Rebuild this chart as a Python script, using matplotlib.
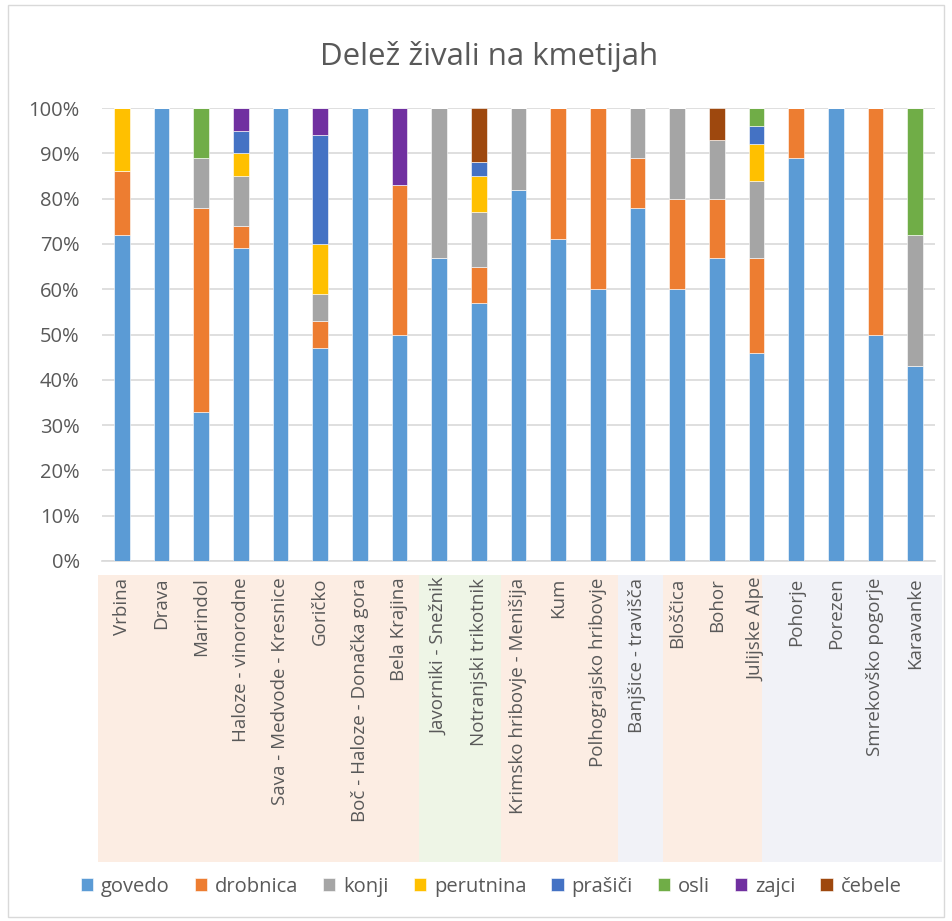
import numpy as np
import matplotlib
matplotlib.use("Agg")
import matplotlib.pyplot as plt
from matplotlib.patches import Rectangle

plt.rcParams["font.family"] = ["Open Sans", "DejaVu Sans"]

# Kmetije (območja)
obmocja = [
    "Vrbina", "Drava", "Marindol", "Haloze - vinorodne",
    "Sava - Medvode - Kresnice", "Goričko", "Boč - Haloze - Donačka gora",
    "Bela Krajina", "Javorniki - Snežnik", "Notranjski trikotnik",
    "Krimsko hribovje - Menišija", "Kum", "Polhograjsko hribovje",
    "Banjšice - travišča", "Bloščica", "Bohor", "Julijske Alpe",
    "Pohorje", "Porezen", "Smrekovško pogorje", "Karavanke",
]

# deleži posameznih vrst živali (v %)
govedo     = [72, 100, 33, 69, 100, 47, 100, 50, 67, 57, 82, 71, 60, 78, 60, 67, 46, 89, 100, 50, 43]
drobnica   = [14, 0, 45, 5, 0, 6, 0, 33, 0, 8, 0, 29, 40, 11, 20, 13, 21, 11, 0, 50, 0]
konji      = [0, 0, 11, 11, 0, 6, 0, 0, 33, 12, 18, 0, 0, 11, 20, 13, 17, 0, 0, 0, 29]
perutnina  = [14, 0, 0, 5, 0, 11, 0, 0, 0, 8, 0, 0, 0, 0, 0, 0, 8, 0, 0, 0, 0]
prasici    = [0, 0, 0, 5, 0, 24, 0, 0, 0, 3, 0, 0, 0, 0, 0, 0, 4, 0, 0, 0, 0]
osli       = [0, 0, 11, 0, 0, 0, 0, 0, 0, 0, 0, 0, 0, 0, 0, 0, 4, 0, 0, 0, 28]
zajci      = [0, 0, 0, 5, 0, 6, 0, 17, 0, 0, 0, 0, 0, 0, 0, 0, 0, 0, 0, 0, 0]
cebele     = [0, 0, 0, 0, 0, 0, 0, 0, 0, 12, 0, 0, 0, 0, 0, 7, 0, 0, 0, 0, 0]

serije = [
    ("govedo", govedo, "#5B9BD5"),
    ("drobnica", drobnica, "#ED7D31"),
    ("konji", konji, "#A5A5A5"),
    ("perutnina", perutnina, "#FFC000"),
    ("prašiči", prasici, "#4472C4"),
    ("osli", osli, "#70AD47"),
    ("zajci", zajci, "#7030A0"),
    ("čebele", cebele, "#9E480E"),
]

# barvna ozadja pod oznakami (od, do v enotah kategorij)
skupine = [
    (-0.6, 7.5, "#FCEDE3"),
    (7.5, 9.57, "#EEF5E6"),
    (9.57, 12.5, "#FCEDE3"),
    (12.5, 13.65, "#F1F2F7"),
    (13.65, 16.15, "#FCEDE3"),
    (16.15, 20.68, "#F1F2F7"),
]

siva = "#595959"

fig = plt.figure(figsize=(9.52, 9.21), dpi=100)
ax = fig.add_axes([0.1071, 0.3909, 0.8750, 0.4918])

x = np.arange(len(obmocja))
dno = np.zeros(len(obmocja))
for ime, vrednosti, barva in serije:
    v = np.array(vrednosti, dtype=float)
    ax.bar(x, v, 0.4, bottom=dno, color=barva, label=ime,
           edgecolor="white", linewidth=0.4, zorder=3)
    dno += v

ax.set_xlim(-0.5, len(obmocja) - 0.5)
ax.set_ylim(0, 100)
ax.set_yticks(np.arange(0, 101, 10))
ax.set_yticklabels([f"{t}%" for t in range(0, 101, 10)])
ax.yaxis.grid(True, color="#D9D9D9", linewidth=1.2, zorder=0)
for s in ["top", "right", "left"]:
    ax.spines[s].set_visible(False)
ax.spines["bottom"].set_color("#D9D9D9")
ax.spines["bottom"].set_linewidth(1.2)

ax.set_xticks(x)
ax.set_xticklabels(obmocja, rotation=90, va="top", ha="center")
ax.tick_params(axis="x", length=0, pad=12, labelsize=13.5, labelcolor=siva)
ax.tick_params(axis="y", length=0, pad=16, labelsize=14.5, labelcolor=siva)

# ozadja oznak
trans = ax.get_xaxis_transform()
for od, do, barva in skupine:
    ax.add_patch(Rectangle((od, -0.665), do - od, 0.634, transform=trans,
                           facecolor=barva, edgecolor="none", clip_on=False, zorder=0))

fig.text(0.514, 0.9294, "Delež živali na kmetijah", ha="center", va="baseline",
         fontsize=22.5, color=siva)

fig.legend(loc="center", bbox_to_anchor=(0.516, 0.037), ncol=8, frameon=False,
           fontsize=14.5, labelcolor=siva, handlelength=0.6, handleheight=0.6,
           handletextpad=0.4, columnspacing=1.24)

fig.patches.append(Rectangle((8 / 952, 4 / 921), 936 / 952, 912 / 921,
                             transform=fig.transFigure, fill=False,
                             edgecolor="#D9D9D9", linewidth=1))

fig.savefig("out.png", dpi=100)
